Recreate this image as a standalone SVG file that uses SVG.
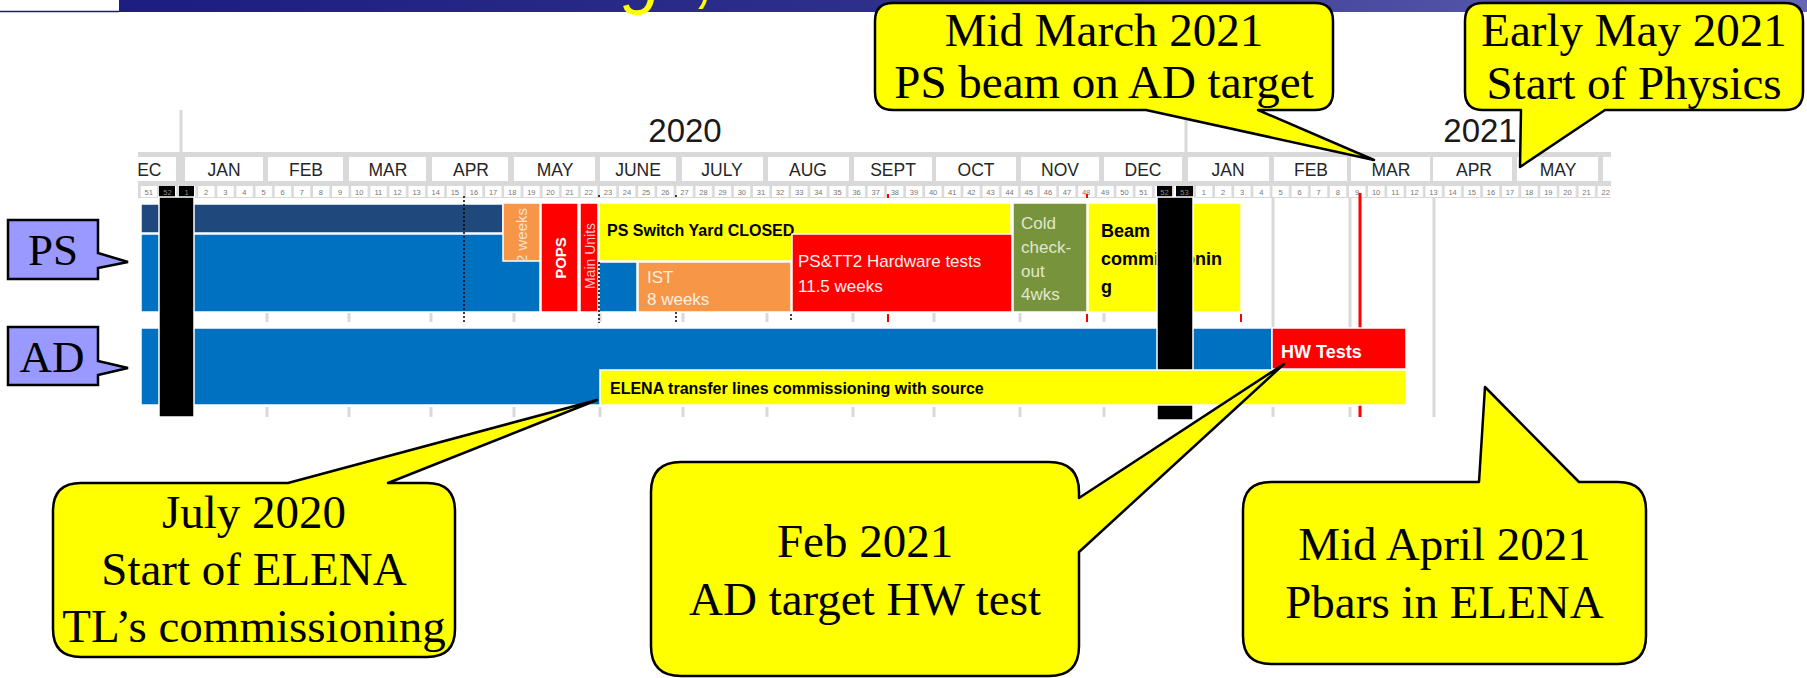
<svg xmlns="http://www.w3.org/2000/svg" width="1807" height="678" viewBox="0 0 1807 678">
<defs>
<linearGradient id="ban" x1="0" x2="1" y1="0" y2="0"><stop offset="0" stop-color="#1a1a80"/><stop offset="0.5" stop-color="#2f2f8c"/><stop offset="1" stop-color="#6666b6"/></linearGradient>
<pattern id="wkA" patternUnits="userSpaceOnUse" x="179" y="186" width="19.13" height="11"><rect width="16.5" height="11" fill="#fff"/></pattern>
<pattern id="wkB" patternUnits="userSpaceOnUse" x="1195.9" y="186" width="19.13" height="11"><rect width="16.5" height="11" fill="#fff"/></pattern>
<clipPath id="hdr"><rect x="138" y="100" width="1473" height="330"/></clipPath>
<clipPath id="c2w"><rect x="503" y="203" width="37" height="58"/></clipPath>
</defs>
<style>
.mon{font-family:"Liberation Sans",Arial,sans-serif;font-size:17.5px;fill:#262626;text-anchor:middle}
.wk{font-family:"Liberation Sans",Arial,sans-serif;font-size:7.5px;fill:#777;text-anchor:middle}
.yr{font-family:"Liberation Sans",Arial,sans-serif;font-size:33px;fill:#1a1a1a;text-anchor:middle}
.bar{stroke:#fff;stroke-width:1.5}
.lbl{font-family:"Liberation Sans",Arial,sans-serif;font-size:17px}
.bl{font-family:"Liberation Sans",Arial,sans-serif;font-weight:bold;fill:#000;font-size:16px}
.co{fill:#ffff00;stroke:#000;stroke-width:2.5;stroke-linejoin:round}
.cot{font-family:"Liberation Serif","Times New Roman",serif;font-size:47px;fill:#000;text-anchor:middle}
.tag{fill:#9999ff;stroke:#000;stroke-width:2.5}
.tagt{font-family:"Liberation Serif","Times New Roman",serif;font-size:45px;fill:#000;text-anchor:middle}
.grid{stroke:#d9d9d9;stroke-width:3}
.dot{stroke:#000;stroke-width:1.5;stroke-dasharray:2 2}
.rt{stroke:#ff0000;stroke-width:2}
.cell{fill:#fff}
</style>

<g id="banner">
<rect x="0" y="0" width="1807" height="12" fill="url(#ban)"/>
<rect x="0" y="0" width="119" height="11" fill="#fff"/>
<line x1="0" y1="11.5" x2="119" y2="11.5" stroke="#1a1a80" stroke-width="1.5"/>
<text x="623" y="0" font-family="Liberation Sans, Arial, sans-serif" font-style="italic" font-size="70" fill="#ffff00">g<tspan x="697">,</tspan></text>
</g>

<g id="header">
<line class="grid" x1="181" y1="110" x2="181" y2="152"/>
<line class="grid" x1="1186" y1="110" x2="1186" y2="152"/>
<text class="yr" x="685" y="142">2020</text>
<text class="yr" x="1480" y="142">2021</text>
<rect x="138" y="152" width="1473" height="46" fill="#d9d9d9"/>
<g class="cell">
<rect x="138" y="157" width="38" height="24"/>
<rect x="185" y="157" width="78" height="24"/>
<rect x="268" y="157" width="75" height="24"/>
<rect x="349" y="157" width="77" height="24"/>
<rect x="432" y="157" width="76" height="24"/>
<rect x="514" y="157" width="81" height="24"/>
<rect x="600" y="157" width="76" height="24"/>
<rect x="682" y="157" width="81" height="24"/>
<rect x="768" y="157" width="81" height="24"/>
<rect x="854" y="157" width="78" height="24"/>
<rect x="936" y="157" width="80" height="24"/>
<rect x="1021" y="157" width="78" height="24"/>
<rect x="1104" y="157" width="78" height="24"/>
<rect x="1188" y="157" width="81" height="24"/>
<rect x="1274" y="157" width="73" height="24"/>
<rect x="1351" y="157" width="79" height="24"/>
<rect x="1433" y="157" width="79" height="24"/>
<rect x="1517" y="157" width="81" height="24"/>
<rect x="1603" y="157" width="8" height="24"/>
</g>
<g clip-path="url(#hdr)">
<text class="mon" x="143" y="175.5">DEC</text>
</g>
<text class="mon" x="224" y="175.5">JAN</text>
<text class="mon" x="306" y="175.5">FEB</text>
<text class="mon" x="388" y="175.5">MAR</text>
<text class="mon" x="471" y="175.5">APR</text>
<text class="mon" x="555" y="175.5">MAY</text>
<text class="mon" x="638" y="175.5">JUNE</text>
<text class="mon" x="722" y="175.5">JULY</text>
<text class="mon" x="808" y="175.5">AUG</text>
<text class="mon" x="893" y="175.5">SEPT</text>
<text class="mon" x="976" y="175.5">OCT</text>
<text class="mon" x="1060" y="175.5">NOV</text>
<text class="mon" x="1143" y="175.5">DEC</text>
<text class="mon" x="1228" y="175.5">JAN</text>
<text class="mon" x="1311" y="175.5">FEB</text>
<text class="mon" x="1391" y="175.5">MAR</text>
<text class="mon" x="1474" y="175.5">APR</text>
<text class="mon" x="1558" y="175.5">MAY</text>
<rect x="140" y="186" width="1050" height="11" fill="url(#wkA)"/>
<rect x="1193" y="186" width="418" height="11" fill="url(#wkB)"/>
<rect x="159" y="186" width="16" height="11" fill="#000"/>
<rect x="179" y="186" width="15" height="11" fill="#000"/>
<rect x="1157" y="186" width="15" height="11" fill="#000"/>
<rect x="1176" y="186" width="17" height="11" fill="#000"/>
<text class="wk" y="195"><tspan x="148.7">51</tspan><tspan x="206.1">2</tspan><tspan x="225.3">3</tspan><tspan x="244.4">4</tspan><tspan x="263.5">5</tspan><tspan x="282.7">6</tspan><tspan x="301.8">7</tspan><tspan x="320.9">8</tspan><tspan x="340">9</tspan><tspan x="359.2">10</tspan><tspan x="378.3">11</tspan><tspan x="397.4">12</tspan><tspan x="416.6">13</tspan><tspan x="435.7">14</tspan><tspan x="454.8">15</tspan><tspan x="474">16</tspan><tspan x="493.1">17</tspan><tspan x="512.2">18</tspan><tspan x="531.3">19</tspan><tspan x="550.5">20</tspan><tspan x="569.6">21</tspan><tspan x="588.7">22</tspan><tspan x="607.9">23</tspan><tspan x="627">24</tspan><tspan x="646.1">25</tspan><tspan x="665.3">26</tspan><tspan x="684.4">27</tspan><tspan x="703.5">28</tspan><tspan x="722.6">29</tspan><tspan x="741.8">30</tspan><tspan x="760.9">31</tspan><tspan x="780">32</tspan><tspan x="799.2">33</tspan><tspan x="818.3">34</tspan><tspan x="837.4">35</tspan><tspan x="856.6">36</tspan><tspan x="875.7">37</tspan><tspan x="894.8">38</tspan><tspan x="913.9">39</tspan><tspan x="933.1">40</tspan><tspan x="952.2">41</tspan><tspan x="971.3">42</tspan><tspan x="990.5">43</tspan><tspan x="1009.6">44</tspan><tspan x="1028.7">45</tspan><tspan x="1047.9">46</tspan><tspan x="1067">47</tspan><tspan x="1086.1">48</tspan><tspan x="1105.2">49</tspan><tspan x="1124.4">50</tspan><tspan x="1143.5">51</tspan><tspan x="1203.9">1</tspan><tspan x="1223.1">2</tspan><tspan x="1242.2">3</tspan><tspan x="1261.3">4</tspan><tspan x="1280.5">5</tspan><tspan x="1299.6">6</tspan><tspan x="1318.7">7</tspan><tspan x="1337.8">8</tspan><tspan x="1357">9</tspan><tspan x="1376.1">10</tspan><tspan x="1395.2">11</tspan><tspan x="1414.4">12</tspan><tspan x="1433.5">13</tspan><tspan x="1452.6">14</tspan><tspan x="1471.8">15</tspan><tspan x="1490.9">16</tspan><tspan x="1510">17</tspan><tspan x="1529.1">18</tspan><tspan x="1548.3">19</tspan><tspan x="1567.4">20</tspan><tspan x="1586.5">21</tspan><tspan x="1605.7">22</tspan></text>
<text class="wk" y="195" style="fill:#8a8a8a"><tspan x="167.5">52</tspan><tspan x="186.5">1</tspan><tspan x="1164.5">52</tspan><tspan x="1184.5">53</tspan></text>
</g>

<g id="grid">
<line class="grid" x1="1273" y1="197" x2="1273" y2="328"/>
<line class="grid" x1="1350" y1="197" x2="1350" y2="328"/>
<line class="grid" x1="1434" y1="197" x2="1434" y2="417"/>
<g class="grid">
<line x1="267" y1="313" x2="267" y2="322"/><line x1="349" y1="313" x2="349" y2="322"/><line x1="431" y1="313" x2="431" y2="322"/><line x1="514" y1="313" x2="514" y2="322"/><line x1="600" y1="313" x2="600" y2="322"/><line x1="683" y1="313" x2="683" y2="322"/><line x1="767" y1="313" x2="767" y2="322"/><line x1="853" y1="313" x2="853" y2="322"/><line x1="934" y1="313" x2="934" y2="322"/><line x1="1020" y1="313" x2="1020" y2="322"/><line x1="1104" y1="313" x2="1104" y2="322"/>
<line x1="267" y1="407" x2="267" y2="417"/><line x1="349" y1="407" x2="349" y2="417"/><line x1="431" y1="407" x2="431" y2="417"/><line x1="514" y1="407" x2="514" y2="417"/><line x1="600" y1="407" x2="600" y2="417"/><line x1="683" y1="407" x2="683" y2="417"/><line x1="767" y1="407" x2="767" y2="417"/><line x1="853" y1="407" x2="853" y2="417"/><line x1="934" y1="407" x2="934" y2="417"/><line x1="1020" y1="407" x2="1020" y2="417"/><line x1="1104" y1="407" x2="1104" y2="417"/><line x1="1273" y1="407" x2="1273" y2="417"/><line x1="1350" y1="407" x2="1350" y2="417"/>
</g>
<line x1="1360" y1="193" x2="1360" y2="417" stroke="#ff0000" stroke-width="3"/>
<g class="rt"><line x1="888" y1="314" x2="888" y2="322"/><line x1="1087" y1="314" x2="1087" y2="322"/><line x1="1241" y1="314" x2="1241" y2="322"/><line x1="888" y1="194" x2="888" y2="198"/><line x1="1087" y1="194" x2="1087" y2="198"/></g>
</g>

<g id="ps-bars">
<rect class="bar" x="141" y="204" width="362" height="29" fill="#1f497d"/>
<rect class="bar" x="141" y="234" width="399" height="78" fill="#0070c0"/>
<rect class="bar" x="503" y="203" width="37" height="58" fill="#f79646"/>
<g clip-path="url(#c2w)"><text transform="translate(527,263) rotate(-90)" font-family="Liberation Sans, Arial, sans-serif" font-size="15" fill="#fbe0cc">2 weeks</text></g>
<rect class="bar" x="541" y="203" width="37" height="109" fill="#ff0000"/>
<text transform="translate(566,258) rotate(-90)" font-family="Liberation Sans, Arial, sans-serif" font-size="15" font-weight="bold" fill="#fff" text-anchor="middle">POPS</text>
<rect class="bar" x="580" y="203" width="18" height="109" fill="#ff0000"/>
<text transform="translate(595,256) rotate(-90)" font-family="Liberation Sans, Arial, sans-serif" font-size="14" fill="#ffc4c4" text-anchor="middle">Main Units</text>
<rect class="bar" x="599" y="203" width="412" height="58" fill="#ffff00"/>
<text class="bl" x="607" y="236">PS Switch Yard CLOSED</text>
<rect class="bar" x="599" y="262" width="38" height="50" fill="#0070c0"/>
<rect class="bar" x="638" y="262" width="153" height="50" fill="#f79646"/>
<text class="lbl" x="647" y="283" fill="#fdeee2">IST</text>
<text class="lbl" x="647" y="305" fill="#fdeee2">8 weeks</text>
<rect class="bar" x="792" y="234" width="220" height="78" fill="#ff0000"/>
<text class="lbl" x="798" y="267" fill="#fff0f0">PS&amp;TT2 Hardware tests</text>
<text class="lbl" x="798" y="292" fill="#fff0f0">11.5 weeks</text>
<rect class="bar" x="1013" y="203" width="74" height="109" fill="#77933c"/>
<text class="lbl" fill="#e0e8cc"><tspan x="1021" y="229">Cold</tspan><tspan x="1021" y="253">check-</tspan><tspan x="1021" y="277">out</tspan><tspan x="1021" y="300">4wks</tspan></text>
<rect class="bar" x="1088" y="203" width="153" height="109" fill="#ffff00"/>
<text class="bl" style="font-size:18px"><tspan x="1101" y="237">Beam</tspan><tspan x="1101" y="265">commissionin</tspan><tspan x="1101" y="293">g</tspan></text>
</g>

<g id="ad-bars">
<rect class="bar" x="141" y="328" width="1131" height="77" fill="#0070c0"/>
<rect class="bar" x="1272" y="328" width="134" height="41" fill="#ff0000"/>
<text class="bl" x="1281" y="358" style="fill:#fff;font-size:18px">HW Tests</text>
</g>

<g id="markers">
<line class="dot" x1="464" y1="196" x2="464" y2="323"/>
<line class="dot" x1="599" y1="262" x2="599" y2="323"/>
<line class="dot" x1="599" y1="195" x2="599" y2="199"/>
<line class="dot" x1="676" y1="195" x2="676" y2="199"/>
<line class="dot" x1="676" y1="312" x2="676" y2="322"/>
<line class="dot" x1="791" y1="314" x2="791" y2="322"/>
<rect x="159" y="197" width="35" height="220" fill="#000" stroke="#fff" stroke-width="1.5"/>
<rect x="1157" y="197" width="36" height="223" fill="#000" stroke="#fff" stroke-width="1.5"/>
</g>

<g id="elena-bar">
<rect class="bar" x="600" y="370" width="806" height="35" fill="#ffff00"/>
<text class="bl" x="610" y="394">ELENA transfer lines commissioning with source</text>
</g>

<g id="tag-ps">
<path class="tag" d="M8,220 H98 V253 L128,262 L98,268 V279 H8 Z"/>
<text class="tagt" x="53" y="265">PS</text>
</g>
<g id="tag-ad">
<path class="tag" d="M8,327 H98 V361 L128,368 L98,375 V385 H8 Z"/>
<text class="tagt" x="52" y="372">AD</text>
</g>

<g id="callout-march">
<path class="co" d="M893,3 H1315 Q1333,3 1333,21 V92 Q1333,110 1315,110 H1258 L1374,160 L1146,110 H893 Q875,110 875,92 V21 Q875,3 893,3 Z"/>
<text class="cot" x="1104" y="46">Mid March 2021</text>
<text class="cot" x="1104" y="98">PS beam on AD target</text>
</g>
<g id="callout-may">
<path class="co" d="M1483,3 H1785 Q1803,3 1803,21 V92 Q1803,110 1785,110 H1605 L1520,167 L1521,110 H1483 Q1465,110 1465,92 V21 Q1465,3 1483,3 Z"/>
<text class="cot" x="1634" y="46">Early May 2021</text>
<text class="cot" x="1634" y="99">Start of Physics</text>
</g>
<g id="callout-july">
<path class="co" d="M81,483 H288 L597,400 L388,483 H427 Q455,483 455,511 V629 Q455,657 427,657 H81 Q53,657 53,629 V511 Q53,483 81,483 Z"/>
<text class="cot" x="254" y="528">July 2020</text>
<text class="cot" x="254" y="585">Start of ELENA</text>
<text class="cot" x="254" y="642">TL’s commissioning</text>
</g>
<g id="callout-feb">
<path class="co" d="M681,462 H1049 Q1079,462 1079,492 V498 L1284,364 L1079,552 V646 Q1079,676 1049,676 H681 Q651,676 651,646 V492 Q651,462 681,462 Z"/>
<text class="cot" x="865" y="557">Feb 2021</text>
<text class="cot" x="865" y="615">AD target HW test</text>
</g>
<g id="callout-april">
<path class="co" d="M1271,482 H1479 L1485,387 L1579,482 H1618 Q1646,482 1646,510 V636 Q1646,664 1618,664 H1271 Q1243,664 1243,636 V510 Q1243,482 1271,482 Z"/>
<text class="cot" x="1444.5" y="560">Mid April 2021</text>
<text class="cot" x="1444.5" y="618">Pbars in ELENA</text>
</g>
</svg>
